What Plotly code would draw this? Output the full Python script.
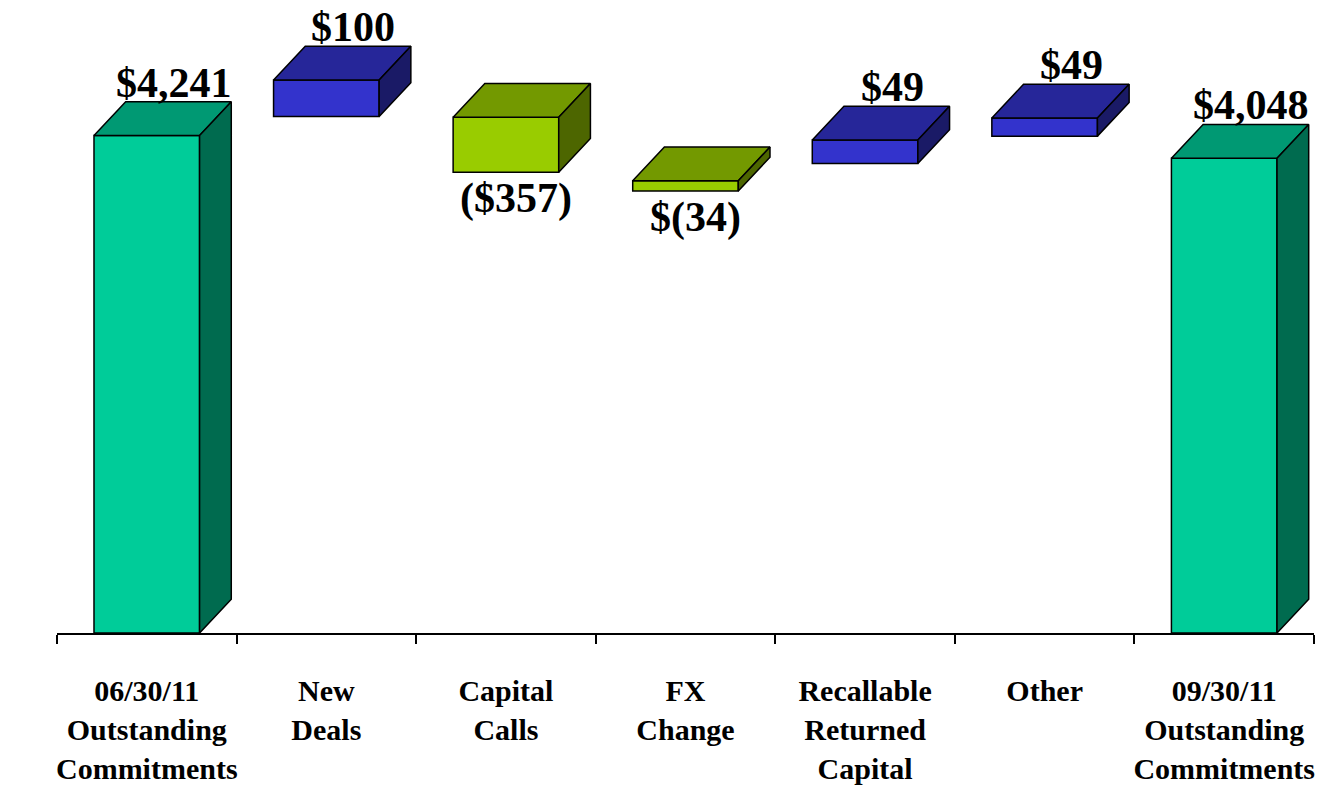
import plotly.graph_objects as go

# ---------------- data ----------------
categories = [
    "06/30/11<br>Outstanding<br>Commitments",
    "New<br>Deals",
    "Capital<br>Calls",
    "FX<br>Change",
    "Recallable<br>Returned<br>Capital",
    "Other",
    "09/30/11<br>Outstanding<br>Commitments",
]
values = [4241, 100, -357, -34, 49, 49, 4048]
value_labels = ["$4,241", "$100", "($357)", "$(34)", "$49", "$49", "$4,048"]
kinds = ["total", "increase", "decrease", "decrease", "increase", "increase", "total"]
# apparent extents of each block as drawn in the reference ($M on the chart's axis)
block_low = [0, 4403, 3928, 3769, 4003, 4236, 0]
block_high = [4241, 4714, 4397, 3855, 4203, 4391, 4048]

# ---------------- style ----------------
PAGE_OFFSET = 8  # default body margin of the html page
W, H = 1323 - PAGE_OFFSET, 785 - PAGE_OFFSET
M_L, M_R, M_T, M_B = 57 - PAGE_OFFSET, 9, 0, 138
PLOT_H = H - M_T - M_B
PX_PER_UNIT = 508.6 / 4241
Y_MAX = PLOT_H / PX_PER_UNIT
BAR_W = 0.588          # front-face width (category units)
DEPTH_X = 0.1765       # 3D depth, x (category units)
DEPTH_Y = 34.5 / PX_PER_UNIT  # 3D depth, y (value units)

palette = {
    "total": ("#00CC99", "#009973", "#006B4F"),
    "increase": ("#3333CC", "#262699", "#1A1A66"),
    "decrease": ("#99CC00", "#739900", "#4D6600"),
}
FONT = "Liberation Serif, Times New Roman, serif"
EDGE = dict(color="black", width=1.5)

fig = go.Figure()

# front faces (bars)
for kind in palette:
    idx = [i for i, k in enumerate(kinds) if k == kind]
    fig.add_trace(go.Bar(
        x=idx,
        y=[block_high[i] - block_low[i] for i in idx],
        base=[block_low[i] for i in idx],
        width=BAR_W,
        marker=dict(color=palette[kind][0], line=EDGE),
        hoverinfo="skip", showlegend=False,
    ))

# top and side faces
for kind in palette:
    idx = [i for i, k in enumerate(kinds) if k == kind]
    tx, ty, sx, sy = [], [], [], []
    for i in idx:
        l, r = i - BAR_W / 2, i + BAR_W / 2
        lo, hi = block_low[i], block_high[i]
        tx += [l, r, r + DEPTH_X, l + DEPTH_X, l, None]
        ty += [hi, hi, hi + DEPTH_Y, hi + DEPTH_Y, hi, None]
        sx += [r, r + DEPTH_X, r + DEPTH_X, r, r, None]
        sy += [lo, lo + DEPTH_Y, hi + DEPTH_Y, hi, lo, None]
    fig.add_trace(go.Scatter(x=tx, y=ty, mode="lines", fill="toself",
                             fillcolor=palette[kind][1], line=EDGE,
                             hoverinfo="skip", showlegend=False))
    fig.add_trace(go.Scatter(x=sx, y=sy, mode="lines", fill="toself",
                             fillcolor=palette[kind][2], line=EDGE,
                             hoverinfo="skip", showlegend=False))

# value labels
for i, (v, lab) in enumerate(zip(values, value_labels)):
    if v >= 0:
        fig.add_annotation(x=i + 0.15, y=block_high[i] + DEPTH_Y, text=lab,
                           showarrow=False, yanchor="bottom", yshift=-5,
                           borderpad=0,
                           font=dict(family=FONT, size=42, color="black", weight="bold"))
    else:
        fig.add_annotation(x=i + 0.055, y=block_low[i], text=lab,
                           showarrow=False, yanchor="top", yshift=-2,
                           borderpad=0,
                           font=dict(family=FONT, size=42, color="black", weight="bold"))

n = len(categories)
fig.update_layout(
    width=W, height=H,
    margin=dict(l=M_L, r=M_R, t=M_T, b=M_B),
    paper_bgcolor="white", plot_bgcolor="white",
    barmode="overlay",
    xaxis=dict(
        range=[-0.5, n - 0.5],
        tickmode="array", tickvals=list(range(n)), ticktext=categories,
        ticks="", showgrid=False, zeroline=False,
        showline=True, linecolor="black", linewidth=1.5,
        tickfont=dict(family=FONT, size=30, color="black", weight="bold"),
        ticklabelstandoff=30,
        minor=dict(tickmode="array", tickvals=[k - 0.5 for k in range(n + 1)],
                   ticks="outside", ticklen=9, tickwidth=1.5, tickcolor="black",
                   showgrid=False),
        fixedrange=True,
    ),
    yaxis=dict(range=[0, Y_MAX], visible=False, showgrid=False, zeroline=False,
               fixedrange=True),
)

fig.write_html("out.html")
